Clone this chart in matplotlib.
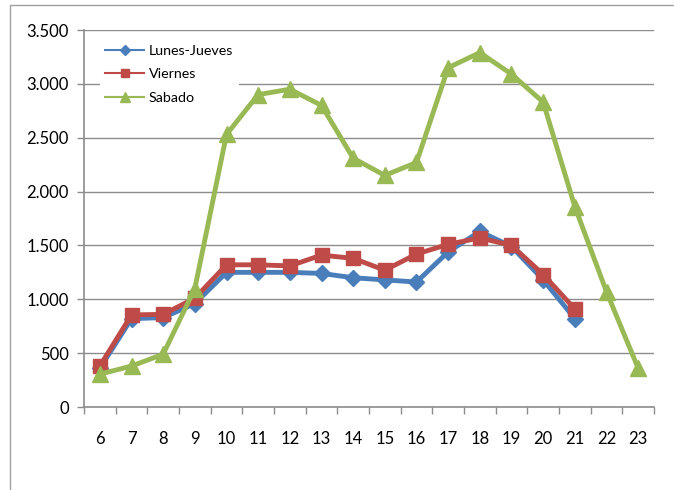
import matplotlib
matplotlib.use("Agg")
import matplotlib.pyplot as plt
from matplotlib.ticker import FuncFormatter, FixedLocator
from matplotlib.lines import Line2D
from matplotlib.patches import Rectangle

# Hourly values per day type
hours = [6, 7, 8, 9, 10, 11, 12, 13, 14, 15, 16, 17, 18, 19, 20, 21, 22, 23]
lunes_jueves = [360, 820, 830, 960, 1250, 1250, 1250, 1240, 1200, 1180, 1160, 1440, 1630, 1490, 1180, 820, None, None]
viernes = [380, 855, 860, 1010, 1320, 1320, 1310, 1410, 1380, 1270, 1420, 1510, 1570, 1500, 1230, 910, None, None]
sabado = [305, 380, 490, 1100, 2530, 2900, 2950, 2800, 2310, 2150, 2270, 3150, 3290, 3090, 2830, 1860, 1070, 360]
y_ticks = [0, 500, 1000, 1500, 2000, 2500, 3000, 3500]

BLUE = "#4A7EBB"
RED = "#BE4B48"
GREEN = "#98B954"
GRID = "#8C8C8C"

plt.rcParams["font.family"] = ["Lato", "DejaVu Sans"]

fig = plt.figure(figsize=(6.74, 4.90), dpi=100)
ax = fig.add_axes([84 / 674, 1 - 407 / 490, 570 / 674, 377 / 490])

x = list(range(len(hours)))


def clean(vals):
    return [float("nan") if v is None else v for v in vals]


ax.plot(x, clean(lunes_jueves), color=BLUE, lw=3.5, marker="D", ms=8.5,
        mfc=BLUE, mec=BLUE, label="Lunes-Jueves", zorder=3)
ax.plot(x, clean(viernes), color=RED, lw=3.5, marker="s", ms=10.5,
        mfc=RED, mec=RED, label="Viernes", zorder=4)
ax.plot(x, clean(sabado), color=GREEN, lw=3.5, marker="^", ms=11,
        mfc=GREEN, mec=GREEN, label="Sabado", zorder=5)

ax.set_xlim(-0.5, len(hours) - 0.5)
ax.set_ylim(0, 3500)

ax.yaxis.set_major_locator(FixedLocator(y_ticks))
ax.yaxis.set_major_formatter(FuncFormatter(lambda v, p: f"{int(v):,}".replace(",", ".")))
ax.grid(axis="y", color=GRID, lw=1.0)
ax.set_axisbelow(True)

ax.set_xticks(x)
ax.set_xticklabels([str(h) for h in hours])
ax.set_xticks([i - 0.5 for i in range(len(hours) + 1)], minor=True)
ax.tick_params(axis="x", which="major", length=0, pad=17.5, labelsize=12, colors="black")
ax.tick_params(axis="x", which="minor", length=5, color=GRID, width=1)
ax.tick_params(axis="y", which="major", length=5, color=GRID, width=1, pad=6,
               labelsize=12, colors="black")

for side in ("top", "right"):
    ax.spines[side].set_visible(False)
for side in ("left", "bottom"):
    ax.spines[side].set_color(GRID)
    ax.spines[side].set_linewidth(1.2)

handles = [
    Line2D([], [], color=BLUE, lw=1.5, marker="D", ms=5, mfc=BLUE, mec=BLUE),
    Line2D([], [], color=RED, lw=1.5, marker="s", ms=6, mfc=RED, mec=RED),
    Line2D([], [], color=GREEN, lw=1.5, marker="^", ms=6.5, mfc=GREEN, mec=GREEN),
]
leg = ax.legend(handles, ["Lunes-Jueves", "Viernes", "Sabado"], loc="upper left",
                bbox_to_anchor=(0.015, 0.995), frameon=True, fancybox=False,
                edgecolor="none", facecolor="white", framealpha=1.0,
                fontsize=10.3, handlelength=2.7, handletextpad=0.35,
                labelspacing=0.8, borderpad=0.4)
leg.set_zorder(10)

# outer chart frame
fig.patches.append(Rectangle((10 / 674, -0.1), 1.2, (1 - 5 / 490) + 0.1,
                             transform=fig.transFigure, fill=False,
                             edgecolor="#A0A0A0", lw=1.0))

fig.savefig("out.png", dpi=100)
